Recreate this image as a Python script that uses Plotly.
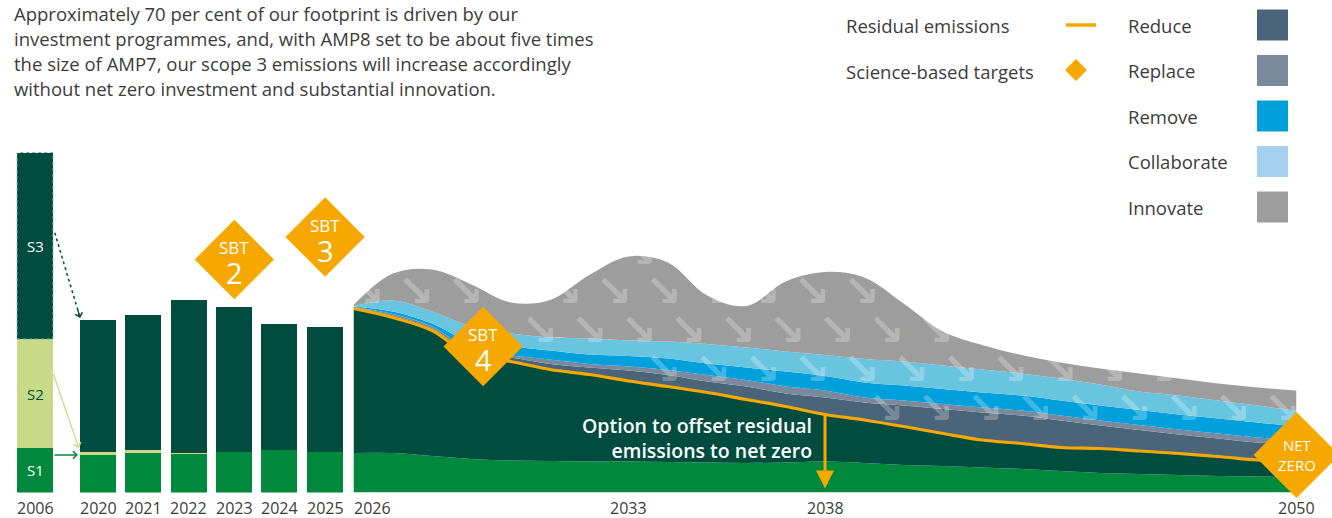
import numpy as np
import plotly.graph_objects as go

W, H = 1332, 518

# ---------------- data (arbitrary emission units) ----------------
bar_years = ["2006", "2020", "2021", "2022", "2023", "2024", "2025"]
bar_scope1 = [44.5, 37.5, 39.5, 38.5, 40.5, 42.5, 40.5]
bar_scope2 = [109.0, 3.0, 3.0, 1.0, 0.0, 0.0, 0.0]
bar_scope3 = [186.5, 132.0, 135.0, 153.0, 145.0, 126.0, 125.0]
bar_scope_labels = ["S1", "S2", "S3"]

path_years = list(range(2026, 2051))
path_scope1 = [39.5, 39.5, 36.5, 33.5, 32, 31.5, 31, 31, 30.5, 30, 29.5, 30, 31,
               29.5, 27.5, 26.5, 25, 23.5, 21.5, 19.5, 18.5, 17.5, 16.5, 16, 15.5]
path_scope23 = [144.5, 135.5, 125.5, 102.5, 99, 91.5, 87, 80.5, 75.5, 70, 63.5, 56, 47,
                43, 38.5, 32.5, 27.5, 25.5, 23.5, 24.5, 23, 21.5, 19.5, 16.5, 14.5]
lever_reduce = [1, 2, 2, 3, 4, 5.5, 7, 10.5, 11.5, 11, 13, 13, 17,
                17.5, 21, 24.5, 27.5, 28, 27, 23, 21, 19, 18, 17.5, 18.5]
lever_replace = [0.5, 1.5, 2, 3, 2, 4.5, 3.5, 4, 5, 6.5, 6.5, 7, 7,
                 5, 5, 5, 5, 5, 5, 5, 5, 5, 5, 5, 4]
lever_remove = [0.5, 2.5, 3, 8, 9, 9, 9.5, 10.5, 11.5, 11.5, 12.5, 15, 14.5,
                15, 15, 15, 15, 15, 15, 15, 15, 15, 15, 15, 13.5]
lever_collaborate = [0.5, 11, 12, 16, 13, 13, 16, 15.5, 17, 19.5, 20, 20, 21,
                     23.5, 24, 23.5, 23, 22, 22, 21, 18.5, 19, 18, 17, 16]
lever_innovate = [1, 27, 42, 42, 31, 37.5, 63.5, 84, 79, 48.5, 41.5, 70, 83,
                  81.5, 58, 34, 24.5, 18.5, 16, 16, 18, 17, 17, 18, 20]
lever_names = ["Reduce", "Replace", "Remove", "Collaborate", "Innovate"]

sbt_bar_years = ["2023", "2025"]
sbt_bar_values = [233.0, 255.5]
sbt_bar_labels = ["2", "3"]
sbt_path_years = [2029.3]
sbt_path_values = [146.0]
sbt_path_labels = ["4"]
net_zero_year = 2050
net_zero_value = 37.5
offset_year = 2038
path_tick_years = [2026, 2033, 2038, 2050]

title_lines = [
    "Approximately 70 per cent of our footprint is driven by our",
    "investment programmes, and, with AMP8 set to be about five times",
    "the size of AMP7, our scope 3 emissions will increase accordingly",
    "without net zero investment and substantial innovation.",
]
offset_text = "Option to offset residual<br>emissions to net zero"
key_left = ["Residual emissions", "Science-based targets"]

# ---------------- styles ----------------
C = dict(s1="#00893c", s2="#c8da88", s3="#004c3f", reduce="#4a6479", replace="#7a8a9c",
         remove="#00a0dc", collab="#69c5df", collab_key="#a6d0f0", innovate="#9d9d9d",
         orange="#f6a800", text="#3c3c3c", axis="#b4b4b4")
lever_colors = [C["reduce"], C["replace"], C["remove"], C["collab"], C["innovate"]]
key_colors = [C["reduce"], C["replace"], C["remove"], C["collab_key"], C["innovate"]]
FONT = "Open Sans"

fig = go.Figure()

# ---------------- bars ----------------
gap_after_baseline = 0.39
bar_pos = [0.0] + [i + gap_after_baseline for i in range(1, len(bar_years))]
bar_w = 0.79
for vals, col in ((bar_scope1, C["s1"]), (bar_scope2, C["s2"]), (bar_scope3, C["s3"])):
    fig.add_trace(go.Bar(x=bar_pos, y=vals, width=bar_w, xaxis="x2", yaxis="y",
                         marker=dict(color=col, line_width=0), hoverinfo="skip"))

# ---------------- stacked pathway ----------------
layers = [(path_scope1, C["s1"]), (path_scope23, C["s3"])] + list(
    zip([lever_reduce, lever_replace, lever_remove, lever_collaborate, lever_innovate], lever_colors))
for vals, col in layers:
    fig.add_trace(go.Scatter(x=path_years, y=vals, stackgroup="path", mode="lines",
                             line=dict(width=0, shape="spline", smoothing=1.0),
                             fillcolor=col, hoverinfo="skip"))

residual = np.add(path_scope1, path_scope23)
total = residual + np.sum([lever_reduce, lever_replace, lever_remove,
                           lever_collaborate, lever_innovate], axis=0)

# arrow texture over the lever layers (skipped where a target diamond covers it)
px_year = 943.0 / 24.0
col_step = 49.5 / px_year
covers = list(zip(sbt_path_years, sbt_path_values)) + [(net_zero_year, net_zero_value)]
pat_x, pat_y = [], []
for k, v in enumerate(np.arange(42, 260, 39)):
    start = 2026.33 + (0 if k % 2 == 0 else col_step / 2)
    for xx in np.arange(start, 2050.2, col_step):
        r = np.interp(xx, path_years, residual)
        t = np.interp(xx, path_years, total)
        hidden = any(abs(xx - cx) * px_year + abs(v - cy) < 52 for cx, cy in covers)
        if v > r + 11 and v < t + 8 and not hidden:
            pat_x.append(xx)
            pat_y.append(v)
fig.add_trace(go.Scatter(x=pat_x, y=pat_y, mode="text", text=["↘"] * len(pat_x),
                         textfont=dict(family="DejaVu Sans", size=44, color="rgba(255,255,255,0.27)",
                                       weight="bold"),
                         hoverinfo="skip"))

# residual emissions line
fig.add_trace(go.Scatter(x=path_years, y=residual, mode="lines",
                         line=dict(color=C["orange"], width=3.2, shape="spline", smoothing=1.0),
                         hoverinfo="skip"))

# science-based target diamonds
sbt_bar_x = [bar_pos[bar_years.index(y)] for y in sbt_bar_years]
fig.add_trace(go.Scatter(x=sbt_bar_x, y=sbt_bar_values, xaxis="x2", yaxis="y", mode="markers",
                         marker=dict(symbol="diamond", size=61, color=C["orange"], line_width=0),
                         cliponaxis=False, hoverinfo="skip"))
fig.add_trace(go.Scatter(x=sbt_path_years, y=sbt_path_values, mode="markers",
                         marker=dict(symbol="diamond", size=61, color=C["orange"], line_width=0),
                         cliponaxis=False, hoverinfo="skip"))
fig.add_trace(go.Scatter(x=[net_zero_year], y=[net_zero_value], mode="markers",
                         marker=dict(symbol="diamond", size=66, color=C["orange"], line_width=0),
                         cliponaxis=False, hoverinfo="skip"))

ann = []
shapes = []


def sbt_text(x, y, num, xref):
    ann.append(dict(x=x, y=y, xref=xref, yref="y", text="SBT", showarrow=False, yshift=12,
                    borderpad=0, font=dict(family=FONT, size=17, color="white")))
    ann.append(dict(x=x, y=y, xref=xref, yref="y", text=num, showarrow=False, yshift=-13,
                    borderpad=0, font=dict(family=FONT, size=29, color="white")))


for x, y, n in zip(sbt_bar_x, sbt_bar_values, sbt_bar_labels):
    sbt_text(x, y, n, "x2")
for x, y, n in zip(sbt_path_years, sbt_path_values, sbt_path_labels):
    sbt_text(x, y, n, "x")
ann.append(dict(x=net_zero_year, y=net_zero_value, xref="x", yref="y", text="NET<br>ZERO",
                showarrow=False, borderpad=0, font=dict(family=FONT, size=15, color="white")))

# scope labels inside baseline bar
b0 = [bar_scope1[0], bar_scope2[0], bar_scope3[0]]
mids = [b0[0] / 2, b0[0] + b0[1] / 2, b0[0] + b0[1] + b0[2] / 2]
for lab, m, col in zip(bar_scope_labels, mids, ["white", C["s3"], "white"]):
    ann.append(dict(x=bar_pos[0], y=m, xref="x2", yref="y", text=lab, showarrow=False,
                    font=dict(family=FONT, size=15, color=col)))

# dotted outline of baseline scope 3
shapes.append(dict(type="rect", xref="x2", yref="y", x0=bar_pos[0] - bar_w / 2, x1=bar_pos[0] + bar_w / 2,
                   y0=b0[0] + b0[1], y1=sum(b0), line=dict(color="#7fb0a4", width=1, dash="dot"),
                   fillcolor="rgba(0,0,0,0)", layer="above"))

# connectors from baseline to 2020
edge0 = bar_pos[0] + bar_w / 2
edge1 = bar_pos[1] - bar_w / 2
s3_from = b0[0] + b0[1] + 0.57 * b0[2]
s3_to = bar_scope1[1] + bar_scope2[1] + bar_scope3[1] + 2
fig.add_trace(go.Scatter(x=[edge0 + 0.04, edge1], y=[s3_from, s3_to], xaxis="x2", yaxis="y",
                         mode="lines", line=dict(color=C["s3"], width=1.5, dash="dot"),
                         cliponaxis=False, hoverinfo="skip"))
ann.append(dict(x=edge1, y=s3_to, xref="x2", yref="y", ax=-3, ay=-10, text="", showarrow=True,
                arrowhead=4, arrowsize=1.1, arrowwidth=1.3, arrowcolor=C["s3"]))
ann.append(dict(x=edge1 - 0.03, y=bar_scope1[1] + bar_scope2[1] + 4, xref="x2", yref="y",
                ax=edge0, ay=b0[0] + 0.69 * b0[1], axref="x2", ayref="y", text="", showarrow=True,
                arrowhead=4, arrowsize=1.1, arrowwidth=1.3, arrowcolor=C["s2"]))
ann.append(dict(x=edge1 - 0.05, y=bar_scope1[1], xref="x2", yref="y",
                ax=edge0, ay=bar_scope1[1], axref="x2", ayref="y", text="", showarrow=True,
                arrowhead=4, arrowsize=1.1, arrowwidth=1.3, arrowcolor=C["s1"]))

# offset arrow + text
res_off = float(np.interp(offset_year, path_years, residual))
s1_off = float(np.interp(offset_year, path_years, path_scope1))
ann.append(dict(x=offset_year, y=0, xref="x", yref="y", ax=offset_year, ay=res_off,
                axref="x", ayref="y", text="", showarrow=True, arrowhead=2, arrowsize=1.2,
                arrowwidth=3, arrowcolor=C["orange"], standoff=4))
ann.append(dict(x=offset_year, y=(res_off + s1_off) / 2, xref="x", yref="y", text=offset_text,
                showarrow=False, xanchor="right", align="right", xshift=-11,
                font=dict(family=FONT, size=19.5, color="white", weight=600)))

# x labels
for p, lab in zip(bar_pos, bar_years):
    ann.append(dict(x=p, y=0, xref="x2", yref="y", text=lab, showarrow=False, yanchor="middle",
                    yshift=-15.5, borderpad=0, font=dict(family=FONT, size=16, color=C["text"])))
for yr in path_tick_years:
    ann.append(dict(x=yr, y=0, xref="x", yref="y", text=str(yr), showarrow=False, yanchor="middle",
                    xanchor="left" if yr == path_tick_years[0] else "center", borderpad=0,
                    yshift=-15.5, font=dict(family=FONT, size=16, color=C["text"])))

# baseline rule
shapes.append(dict(type="line", xref="paper", yref="y", ysizemode="pixel", yanchor=0,
                   x0=17 / W, x1=1316 / W, y0=-1.5, y1=-1.5, line=dict(color=C["axis"], width=1.8),
                   layer="below"))

# title
for i, line in enumerate(title_lines):
    ann.append(dict(x=12 / W, y=1 - (14 + 24.7 * i) / H, xref="paper", yref="paper", text=line,
                    showarrow=False, xanchor="left", yanchor="middle",
                    font=dict(family=FONT, size=18.5, color=C["text"])))

# key
for i, lab in enumerate(key_left):
    ann.append(dict(x=844 / W, y=1 - (25 + 46 * i) / H, xref="paper", yref="paper", text=lab,
                    showarrow=False, xanchor="left", yanchor="middle",
                    font=dict(family=FONT, size=18.5, color=C["text"])))
shapes.append(dict(type="line", xref="paper", yref="paper", x0=1066 / W, x1=1096 / W,
                   y0=1 - 25 / H, y1=1 - 25 / H, line=dict(color=C["orange"], width=3.5)))
shapes.append(dict(type="path", xref="paper", yref="paper", xsizemode="pixel", ysizemode="pixel",
                   xanchor=1076 / W, yanchor=1 - 70 / H, path="M -11,0 L 0,11 L 11,0 L 0,-11 Z",
                   fillcolor=C["orange"], line_width=0))
for i, (lab, col) in enumerate(zip(lever_names, key_colors)):
    yc = 25 + 45.5 * i
    ann.append(dict(x=1126 / W, y=1 - yc / H, xref="paper", yref="paper", text=lab,
                    showarrow=False, xanchor="left", yanchor="middle",
                    font=dict(family=FONT, size=18.5, color=C["text"])))
    shapes.append(dict(type="rect", xref="paper", yref="paper", x0=1257 / W, x1=1288 / W,
                       y0=1 - (yc - 15.5) / H, y1=1 - (yc + 15.5) / H, fillcolor=col, line_width=0))

fig.update_layout(
    width=W, height=H, margin=dict(l=0, r=0, t=0, b=0),
    paper_bgcolor="white", plot_bgcolor="white", showlegend=False,
    barmode="stack", bargap=0,
    xaxis=dict(domain=[353.5 / W, 1296.5 / W], range=[2026, 2050], visible=False, anchor="y"),
    xaxis2=dict(domain=[12.3 / W, 352.8 / W], range=[-0.5, 7.0], visible=False, anchor="y"),
    yaxis=dict(domain=[25.5 / H, 1], range=[0, 492.5], visible=False, anchor="x"),
    annotations=ann, shapes=shapes,
)

fig.write_html("out.html")
